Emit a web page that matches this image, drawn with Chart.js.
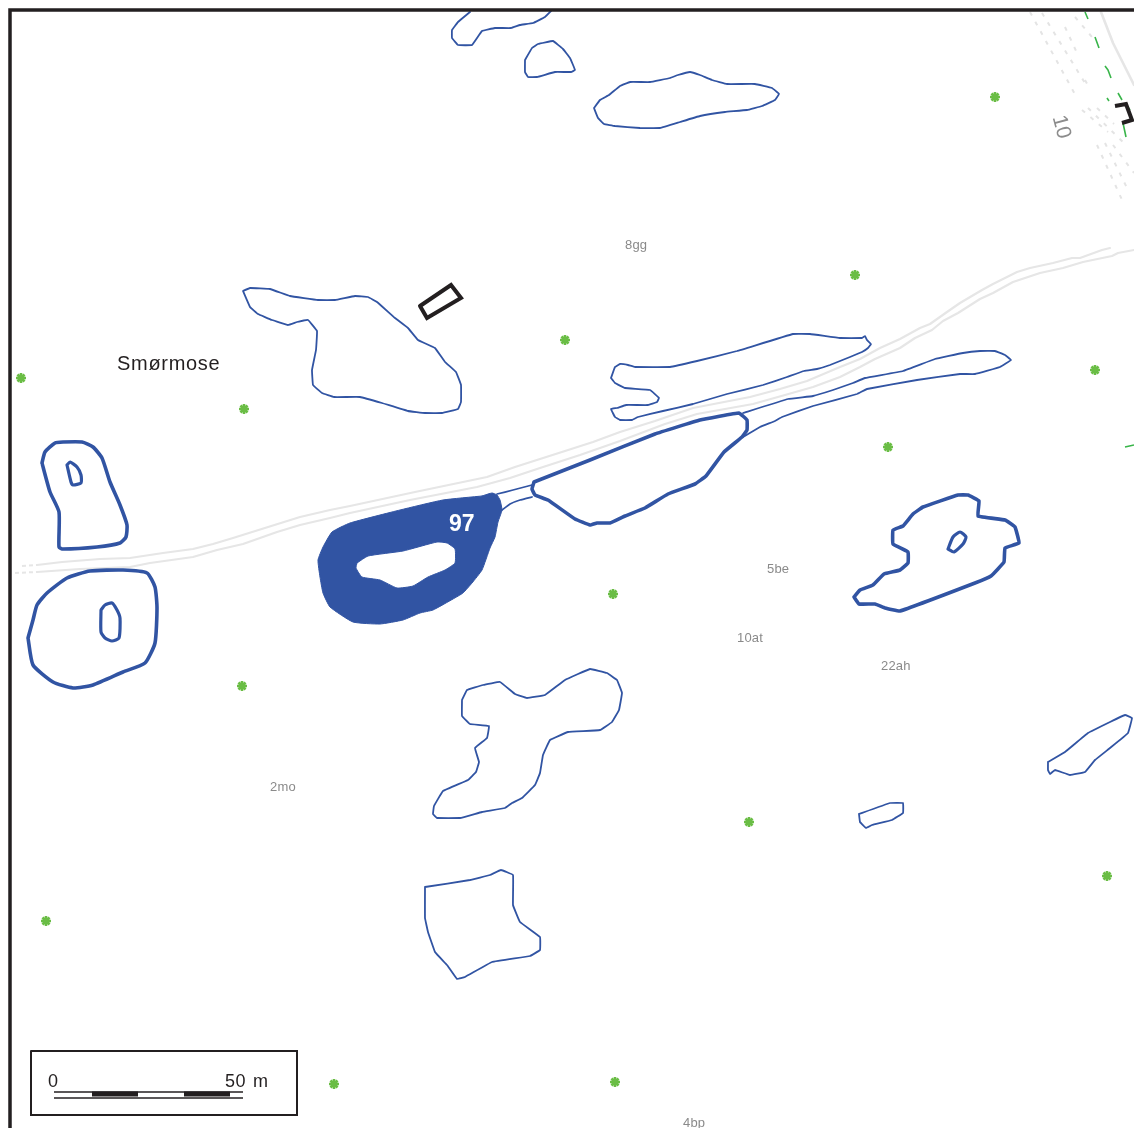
<!DOCTYPE html>
<html>
<head>
<meta charset="utf-8">
<title>Smørmose</title>
<script src="https://cdn.jsdelivr.net/npm/chart.js@4"></script>
<style>
  html, body { margin: 0; padding: 0; background: #fff; overflow: hidden; }
  #map { display: block; }
</style>
</head>
<body>
<canvas id="map" width="1134" height="1128"></canvas>
<script>
// Map coordinates, [x, y] in map units
const lakeOuter = [[482,496],[492,493],[497,495],[500,500],[502,510],[498,522],[495,537],[490,548],[482,570],[472,583],[463,593],[453,599],[433,610],[420,613],[403,620],[380,624],[353,622],[330,607],[323,593],[320,577],[318,560],[323,547],[332,532],[350,523],[400,510],[443,500],[482,496]];
const lakeHole = [[357,563],[368,556],[403,551],[437,542],[447,543],[455,549],[455,563],[445,570],[428,577],[413,586],[397,588],[380,580],[362,577],[356,568],[357,563]];

const thinTop = [[470,12],[458,22],[452,30],[452,38],[458,45],[472,45],[482,31],[495,28],[511,28],[520,25],[533,23],[545,17],[551,11]];
const thinSmall = [[525,60],[532,48],[538,44],[553,41],[563,49],[570,58],[575,70],[571,72],[555,72],[537,77],[528,77],[525,72],[525,60]];
const thinLong = [[594,108],[600,100],[609,95],[620,86],[630,82],[650,82],[670,78],[678,75],[690,72],[700,75],[712,80],[727,84],[755,84],[772,88],[779,94],[775,100],[762,106],[747,110],[725,112],[700,116],[680,122],[660,128],[640,128],[615,126],[604,124],[598,118],[594,108]];
const thinCentre = [[243,291],[250,288],[270,289],[290,296],[318,300],[335,300],[355,296],[368,297],[377,302],[395,318],[408,328],[418,340],[435,348],[445,362],[456,372],[461,385],[461,402],[458,409],[442,413],[425,413],[408,411],[382,403],[360,397],[334,397],[322,393],[313,385],[312,370],[316,350],[317,331],[308,320],[297,322],[288,325],[272,320],[258,314],[250,307],[243,291]];
const thinBand = [[611,378],[615,367],[620,364],[628,365],[635,367],[670,367],[697,361],[737,351],[793,334],[810,334],[840,338],[862,338],[865,336],[867,340],[871,344],[868,348],[862,352],[850,357],[830,365],[817,369],[804,371],[787,377],[763,385],[727,394],[693,404],[663,411],[638,417],[632,420],[620,420],[615,417],[611,409],[617,408],[626,405],[648,405],[657,402],[659,398],[650,390],[625,388],[615,383],[611,378]];
const thinTail = [[743,413],[788,399],[813,396],[833,390],[853,383],[865,378],[903,371],[935,359],[963,353],[980,351],[995,351],[1005,355],[1011,360],[1000,367],[975,374],[960,374],[917,380],[867,389],[857,394],[813,406],[782,417],[775,421],[760,427],[743,437]];
const linkUpper = [[497,494],[513,490],[532,485]];
const linkLower = [[502,510],[510,504],[520,500],[532,497]];
const thinSouth = [[462,700],[467,690],[483,685],[500,682],[515,694],[527,698],[545,695],[565,680],[590,669],[607,673],[617,680],[622,693],[619,710],[612,722],[600,730],[568,732],[550,740],[543,755],[540,773],[535,785],[522,798],[512,803],[505,808],[482,812],[460,818],[437,818],[433,814],[434,806],[443,791],[468,780],[476,772],[479,762],[475,748],[487,738],[489,726],[470,724],[462,716],[462,700]];
const thinEast = [[1048,762],[1065,752],[1088,733],[1110,722],[1125,715],[1132,718],[1128,733],[1110,748],[1095,760],[1085,772],[1070,775],[1055,770],[1050,774],[1048,770],[1048,762]];
const thinTiny = [[859,814],[890,803],[903,803],[903,813],[892,820],[872,825],[866,828],[860,822],[859,814]];
const thinBottom = [[425,887],[470,880],[490,875],[501,870],[513,875],[513,905],[520,922],[540,937],[540,950],[530,956],[492,962],[465,977],[457,979],[447,965],[435,952],[428,932],[425,918],[425,887]];

const thickBand = [[534,482],[590,460],[655,434],[700,420],[739,413],[747,420],[747,430],[742,437],[724,452],[706,476],[695,484],[668,494],[645,508],[625,516],[610,523],[597,523],[590,525],[575,519],[548,500],[535,495],[532,489],[534,482]];
const thickNorth = [[42,463],[45,452],[55,443],[63,442],[82,442],[93,447],[102,458],[110,482],[120,505],[127,525],[126,537],[120,543],[97,547],[63,549],[59,547],[59,512],[50,492],[42,463]];
const thickNorthHole = [[67,465],[70,462],[77,467],[81,475],[81,483],[73,485],[71,482],[67,465]];
const thickSouth = [[28,638],[33,620],[37,605],[47,593],[67,578],[90,571],[123,570],[147,573],[155,587],[157,608],[155,643],[145,663],[123,672],[93,685],[73,688],[53,682],[33,665],[28,638]];
const thickSouthHole = [[101,610],[105,605],[112,603],[117,610],[120,618],[119,638],[112,641],[105,638],[101,632],[101,610]];
const thickEast = [[854,597],[860,590],[873,585],[884,574],[900,570],[908,563],[908,552],[893,544],[893,530],[903,526],[913,514],[923,507],[958,495],[968,495],[979,501],[978,516],[1005,520],[1015,527],[1019,543],[1005,548],[1004,562],[991,576],[975,583],[900,611],[885,608],[875,604],[859,604],[854,597]];
const thickEastHole = [[948,549],[953,537],[960,532],[966,537],[963,544],[954,552],[948,549]];

const roadUpper = [[37,565],[62,562],[100,559],[130,558],[163,553],[193,549],[213,544],[233,538],[300,517],[330,510],[350,506],[415,492],[487,477],[515,467],[540,459],[565,451],[593,442],[620,432],[655,421],[693,408],[750,397],[780,389],[807,381],[840,367],[860,359],[880,348],[900,339],[920,328],[930,324],[947,312],[960,303],[982,290],[993,284],[1017,272],[1030,268],[1053,263],[1072,258],[1080,258],[1102,250],[1110,248]];
const roadLower = [[37,572],[80,569],[130,567],[150,563],[193,557],[217,550],[243,544],[277,532],[300,525],[330,518],[350,513],[410,500],[477,487],[510,478],[540,468],[580,455],[620,441],[665,424],[697,414],[753,404],[785,395],[813,387],[840,377],[860,367],[875,359],[900,348],[915,338],[932,330],[943,321],[958,313],[980,299],[993,293],[1013,282],[1040,273],[1063,268],[1083,262],[1112,256],[1118,253],[1134,250]];
const roadEndUpper = [[22,566],[37,565]];
const roadEndLower = [[15,573],[37,572]];
const roadCorner = [[1101,12],[1113,43],[1134,85]];
const hatchLines = [
  [[1030,12],[1077,98]],
  [[1042,13],[1088,88]],
  [[1065,27],[1077,53]],
  [[1075,17],[1092,37]],
  [[1085,80],[1090,89]],
  [[1082,110],[1108,132]],
  [[1088,108],[1123,142]],
  [[1097,108],[1114,124]],
  [[1097,145],[1123,202]],
  [[1105,143],[1128,190]],
  [[1113,145],[1134,173]]
];
const greenDashes = [[1085,12],[1088,19],null,[1095,37],[1099,48],null,[1105,66],[1108,70],[1111,78],null,[1118,93],[1122,100],null,[1107,98],[1109,101],null,[1125,103],[1130,110],null,[1123,123],[1126,137],null,[1125,447],[1134,445]];

const building = [[420,306],[451,285],[461,298],[427,318],[420,306]];
const bracket = [[1115,106],[1126,104],[1132,120],[1122,123]];
const frameLine = [[10,1128],[10,10],[1134,10]];
const scaleBox = [[31,1051],[297,1051],[297,1115],[31,1115],[31,1051]];
const scaleTop = [[54,1092],[243,1092]];
const scaleBottom = [[54,1098],[243,1098]];
const scaleBlack = [[92,1094],[138,1094],null,[184,1094],[230,1094]];

const starPoints = [[995,97],[855,275],[565,340],[21,378],[244,409],[1095,370],[888,447],[613,594],[242,686],[749,822],[1107,876],[46,921],[334,1084],[615,1082]];

const parcelNames = ['8gg', '5be', '10at', '22ah', '2mo', '4bp'];
const parcelX = [625, 767, 737, 881, 270, 683];
const parcelY = [245, 569, 638, 666, 787, 1123];

const BLUE = '#3154a3';
const DARK = '#231f20';
const ROAD = '#e6e6e6';
const GREEN = '#39b54a';
const STAR = '#6abd45';

function toXY(points) {
  return points.map(p => (p ? { x: p[0], y: p[1] } : { x: null, y: null }));
}

function line(points, width, color, extra) {
  return Object.assign({
    data: toXY(points),
    showLine: true,
    borderColor: color,
    borderWidth: width,
    borderJoinStyle: 'round',
    borderCapStyle: 'round',
    pointRadius: 0,
    tension: 0,
    spanGaps: false
  }, extra || {});
}

const datasets = [
  line(frameLine, 3.5, DARK, { borderCapStyle: 'butt', borderJoinStyle: 'miter' }),
  line(scaleBox, 2, DARK, { borderJoinStyle: 'miter' }),
  line(scaleTop, 1.3, DARK, { borderCapStyle: 'butt' }),
  line(scaleBottom, 1.3, DARK, { borderCapStyle: 'butt' }),
  line(scaleBlack, 5, DARK, { borderCapStyle: 'butt' }),
  line(building, 4, DARK, { borderJoinStyle: 'miter' }),
  line(bracket, 4, DARK, { borderCapStyle: 'butt', borderJoinStyle: 'miter' }),
  { data: toXY(starPoints), showLine: false, pointStyle: 'star', pointRadius: 5, pointBorderWidth: 2.6, pointBorderColor: STAR, pointBackgroundColor: STAR }
];

[thickBand, thickEast].forEach(p => {
  datasets.push(line(p, 3.6, BLUE, { tension: 0.08 }));
});
[thickNorth, thickSouth].forEach(p => {
  datasets.push(line(p, 3.6, BLUE, { tension: 0.18 }));
});
[thickNorthHole, thickSouthHole, thickEastHole].forEach(p => {
  datasets.push(line(p, 3.2, BLUE, { tension: 0.2 }));
});
[thinTop, thinSmall, thinLong, thinCentre, thinBand, thinTail, linkUpper, linkLower, thinSouth, thinEast, thinTiny, thinBottom].forEach(p => {
  datasets.push(line(p, 1.8, BLUE, { tension: 0.06 }));
});

const lakeIndex = datasets.length;
datasets.push(line(lakeOuter, 1, BLUE, { tension: 0.15 }));
datasets.push(line(lakeHole, 1, BLUE, { tension: 0.15 }));

datasets.push(line(greenDashes, 1.6, GREEN, { borderCapStyle: 'butt' }));
datasets.push(line(roadUpper, 2.2, ROAD));
datasets.push(line(roadLower, 2.2, ROAD));
datasets.push(line(roadEndUpper, 2, ROAD, { borderDash: [4, 3], borderCapStyle: 'butt' }));
datasets.push(line(roadEndLower, 2, ROAD, { borderDash: [4, 3], borderCapStyle: 'butt' }));
datasets.push(line(roadCorner, 2.6, ROAD));
hatchLines.forEach(p => {
  datasets.push(line(p, 2, '#e4e4e4', { borderDash: [4, 7], borderCapStyle: 'butt' }));
});

// fills the lake with its island cut out, using the curve Chart.js worked out
const lakeFill = {
  id: 'lakeFill',
  beforeDatasetsDraw(chart) {
    const ctx = chart.ctx;
    ctx.save();
    ctx.beginPath();
    [lakeIndex, lakeIndex + 1].forEach(i => {
      const meta = chart.getDatasetMeta(i);
      meta.dataset.updateControlPoints(chart.chartArea);
      meta.data.forEach((pt, n) => {
        if (n === 0) {
          ctx.moveTo(pt.x, pt.y);
        } else {
          const prev = meta.data[n - 1];
          ctx.bezierCurveTo(prev.cp2x, prev.cp2y, pt.cp1x, pt.cp1y, pt.x, pt.y);
        }
      });
      ctx.closePath();
    });
    ctx.fillStyle = BLUE;
    ctx.fill('evenodd');
    ctx.restore();
  }
};

const mapText = {
  id: 'mapText',
  afterDatasetsDraw(chart) {
    const ctx = chart.ctx;
    const sx = chart.scales.x;
    const sy = chart.scales.y;

    const put = (text, x, y, font, color, spacing) => {
      ctx.font = font;
      ctx.fillStyle = color;
      ctx.letterSpacing = spacing || '0px';
      ctx.fillText(text, sx.getPixelForValue(x), sy.getPixelForValue(y));
    };

    ctx.save();
    ctx.textAlign = 'left';
    ctx.textBaseline = 'middle';

    parcelNames.forEach((name, i) => {
      put(name, parcelX[i], parcelY[i], '13px "Liberation Sans"', '#8a8a8a', '0.2px');
    });
    put('Smørmose', 117, 364, '20px "Liberation Sans"', DARK, '0.7px');
    put('97', 449, 525, 'bold 23px "Liberation Sans"', '#ffffff');
    put('0', 48, 1082, '18px "Liberation Sans"', DARK);
    put('50', 225, 1082, '18px "Liberation Sans"', DARK, '0.5px');
    put('m', 253, 1082, '18px "Liberation Sans"', DARK);

    // contour number, turned along the slope
    ctx.translate(sx.getPixelForValue(1061), sy.getPixelForValue(127));
    ctx.rotate(75 * Math.PI / 180);
    ctx.textAlign = 'center';
    ctx.font = '21px "Liberation Sans"';
    ctx.fillStyle = '#8c8c8c';
    ctx.letterSpacing = '0px';
    ctx.fillText('10', 0, 0);
    ctx.restore();
  }
};

new Chart(document.getElementById('map'), {
  type: 'scatter',
  data: { datasets },
  plugins: [lakeFill, mapText],
  options: {
    responsive: false,
    animation: false,
    devicePixelRatio: 1,
    layout: { padding: 0, autoPadding: false },
    events: [],
    plugins: {
      legend: { display: false },
      tooltip: { enabled: false }
    },
    scales: {
      x: { type: 'linear', min: 0, max: 1134, display: false },
      y: { type: 'linear', min: 0, max: 1128, reverse: true, display: false }
    }
  }
});
</script>
</body>
</html>
